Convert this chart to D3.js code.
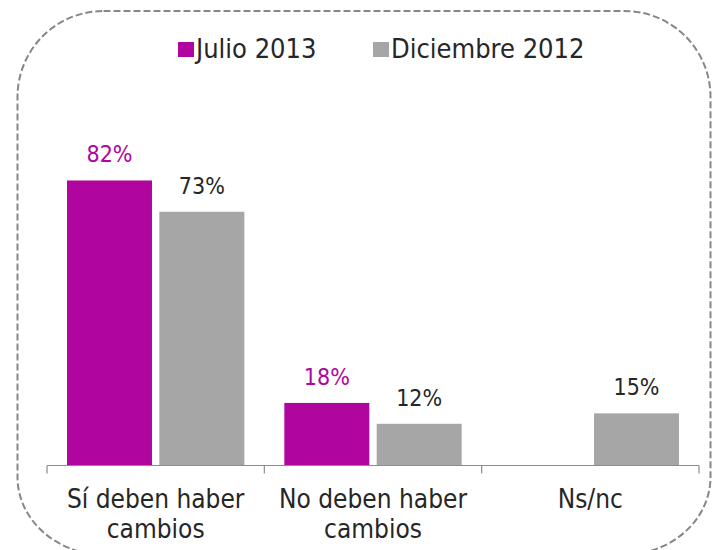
<!DOCTYPE html>
<html>
<head>
<meta charset="utf-8">
<script src="https://cdn.jsdelivr.net/npm/d3@7"></script>
<style>
  body { margin: 0; background: #fff; }
  text { font-family: "DejaVu Sans Condensed", "DejaVu Sans", sans-serif; font-stretch: condensed; }
</style>
</head>
<body>
<div id="chart"></div>
<script>
// datos
var categories = [["Sí deben haber", "cambios"], ["No deben haber", "cambios"], ["Ns/nc"]];
var seriesNames = ["Julio 2013", "Diciembre 2012"];
var julio = [82, 18, null];
var diciembre = [73, 12, 15];
var colors = ["#b0059e", "#a6a6a6"];
var labelColors = ["#b0059e", "#262626"];

var W = 715, H = 550;
var svg = d3.select("#chart").append("svg")
  .attr("width", W).attr("height", H);

// marco punteado (esquinas de arriba y abajo distintas)
var L = 17.5, R = 710.5, T = 11, B = 555;
var rt = 86, rbx = 88, rby = 78;
var p = d3.path();
p.moveTo(L + rt, T);
p.lineTo(R - rt, T);
p.arcTo(R, T, R, T + rt, rt);
p.lineTo(R, B - rby);
svg.append("path")
  .attr("d", [
    "M", L + rt, T,
    "L", R - rt, T,
    "A", rt, rt, 0, 0, 1, R, T + rt,
    "L", R, B - rby,
    "A", rbx, rby, 0, 0, 1, R - rbx, B,
    "L", L + rbx, B,
    "A", rbx, rby, 0, 0, 1, L, B - rby,
    "L", L, T + rt,
    "A", rt, rt, 0, 0, 1, L + rt, T, "Z"
  ].join(" "))
  .attr("fill", "none")
  .attr("stroke", "#878787")
  .attr("stroke-width", 2)
  .attr("stroke-dasharray", "7,3");

var x0 = 47, x1 = 699, base = 465.5;
var x = d3.scaleBand()
  .domain(d3.range(categories.length))
  .range([x0, x1])
  .paddingInner(0).paddingOuter(0);
var xs = d3.scaleBand()
  .domain(d3.range(seriesNames.length))
  .range([20, x.bandwidth() - 20])
  .paddingInner(0.08);
var y = d3.scaleLinear().domain([0, 100]).range([base, base - 347.6]);

var series = [julio, diciembre];

series.forEach(function(vals, s){
  var g = svg.append("g");
  var data = vals.map(function(v, i){ return {v: v, i: i}; })
    .filter(function(d){ return d.v != null; });
  g.selectAll("rect").data(data).enter().append("rect")
    .attr("x", function(d){ return x(d.i) + xs(s); })
    .attr("y", function(d){ return y(d.v); })
    .attr("width", xs.bandwidth())
    .attr("height", function(d){ return base - y(d.v); })
    .attr("fill", colors[s]);
  g.selectAll("text").data(data).enter().append("text")
    .attr("x", function(d){ return x(d.i) + xs(s) + xs.bandwidth()/2; })
    .attr("y", function(d){ return y(d.v) - 18; })
    .attr("text-anchor", "middle")
    .attr("font-size", 23)
    .attr("fill", labelColors[s])
    .text(function(d){ return d.v + "%"; });
});

// eje
var axis = svg.append("g");
axis.append("line")
  .attr("x1", x0).attr("x2", x1)
  .attr("y1", base).attr("y2", base)
  .attr("stroke", "#8c8c8c").attr("stroke-width", 1.2);
d3.range(categories.length + 1).forEach(function(i){
  var tx = x0 + i * x.bandwidth();
  axis.append("line")
    .attr("x1", tx).attr("x2", tx)
    .attr("y1", base).attr("y2", base + 8)
    .attr("stroke", "#8c8c8c").attr("stroke-width", 1.2);
});
categories.forEach(function(lines, i){
  var t = axis.append("text")
    .attr("text-anchor", "middle")
    .attr("font-size", 26)
    .attr("fill", "#262626");
  lines.forEach(function(l, k){
    t.append("tspan")
      .attr("x", x(i) + x.bandwidth()/2)
      .attr("y", 508 + k * 30)
      .text(l);
  });
});

// leyenda
var legX = [178, 373];
seriesNames.forEach(function(n, s){
  svg.append("rect")
    .attr("x", legX[s]).attr("y", 42)
    .attr("width", 16).attr("height", 15)
    .attr("fill", colors[s]);
  svg.append("text")
    .attr("x", legX[s] + 18).attr("y", 58)
    .attr("font-size", 27)
    .attr("fill", "#262626")
    .text(n);
});
</script>
</body>
</html>
